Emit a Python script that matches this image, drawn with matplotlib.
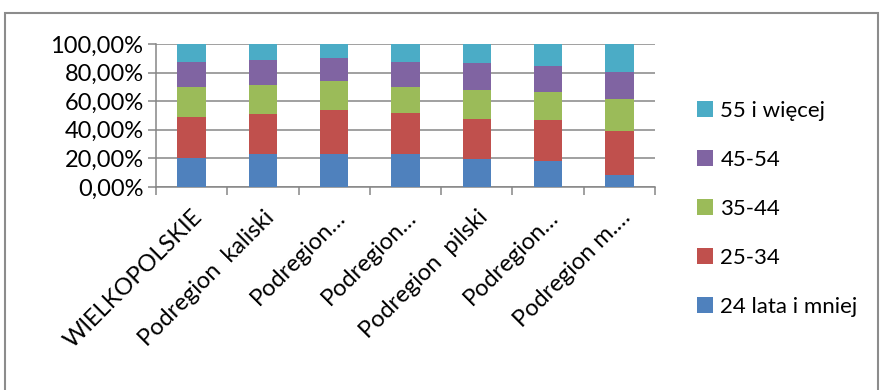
import matplotlib.pyplot as plt
from matplotlib.patches import Rectangle
from matplotlib.ticker import FuncFormatter, FixedLocator
import numpy as np

categories = ["WIELKOPOLSKIE", "Podregion  kaliski", "Podregion…", "Podregion…",
              "Podregion  pilski", "Podregion…", "Podregion m.…"]
series_names = ["24 lata i mniej", "25-34", "35-44", "45-54", "55 i więcej"]
# shares in percent
s24 = [20.5, 22.8, 23.0, 23.3, 19.8, 18.1, 8.6]
s25 = [28.8, 28.1, 30.5, 28.6, 27.6, 29.1, 30.7]
s35 = [20.5, 20.3, 20.7, 17.9, 20.5, 19.5, 22.1]
s45 = [17.4, 17.4, 16.3, 17.4, 18.6, 18.2, 19.3]
s55 = [12.8, 11.4, 9.5, 12.8, 13.5, 15.1, 19.3]
colors = ["#4F81BD", "#C0504D", "#9BBB59", "#8064A2", "#4BACC6"]

plt.rcParams['font.family'] = ['Lato', 'DejaVu Sans']
grid_c = "#868686"

fig = plt.figure(figsize=(8.83, 3.90), dpi=100)
fig.patches.append(Rectangle((5 / 883, -0.1), 873 / 883, 1.1 - 13 / 390, transform=fig.transFigure,
                             fill=False, edgecolor="#8c8c8c", linewidth=1.5))
ax = fig.add_axes([156 / 883, 1 - 187 / 390, 499 / 883, 143 / 390])

x = np.arange(len(categories))
bottom = np.zeros(len(categories))
handles = []
for vals, name, c in zip([s24, s25, s35, s45, s55], series_names, colors):
    b = ax.bar(x, vals, 0.4, bottom=bottom, color=c, label=name, zorder=3)
    handles.append(b)
    bottom += np.array(vals)

ax.set_xlim(-0.5, len(categories) - 0.5)
ax.set_ylim(0, 100)
ax.set_yticks([0, 20, 40, 60, 80, 100])
ax.yaxis.set_major_formatter(FuncFormatter(lambda v, p: f"{v:.2f}%".replace(".", ",")))
ax.grid(axis="y", color=grid_c, linewidth=1.1, zorder=0)

ax.set_xticks(x)
ax.set_xticklabels(categories, rotation=45, ha="right", va="top", rotation_mode="anchor")
ax.xaxis.set_minor_locator(FixedLocator(np.arange(-0.5, len(categories), 1.0)))
ax.tick_params(axis="x", which="major", length=0, pad=14, labelsize=17)
ax.tick_params(axis="x", which="minor", length=6, color=grid_c, width=1.1)
ax.tick_params(axis="y", length=6, color=grid_c, width=1.1, labelsize=17, pad=3)

for s in ["top", "right"]:
    ax.spines[s].set_visible(False)
for s in ["left", "bottom"]:
    ax.spines[s].set_color(grid_c)
    ax.spines[s].set_linewidth(1.1)

fig.legend(handles[::-1], series_names[::-1], loc="upper left",
           bbox_to_anchor=(697 / 883, 1 - 101 / 390), frameon=False, fontsize=16,
           borderpad=0, borderaxespad=0,
           handlelength=0.7, handleheight=0.7, handletextpad=0.35, labelspacing=1.3)

fig.savefig("out.png", dpi=100)
